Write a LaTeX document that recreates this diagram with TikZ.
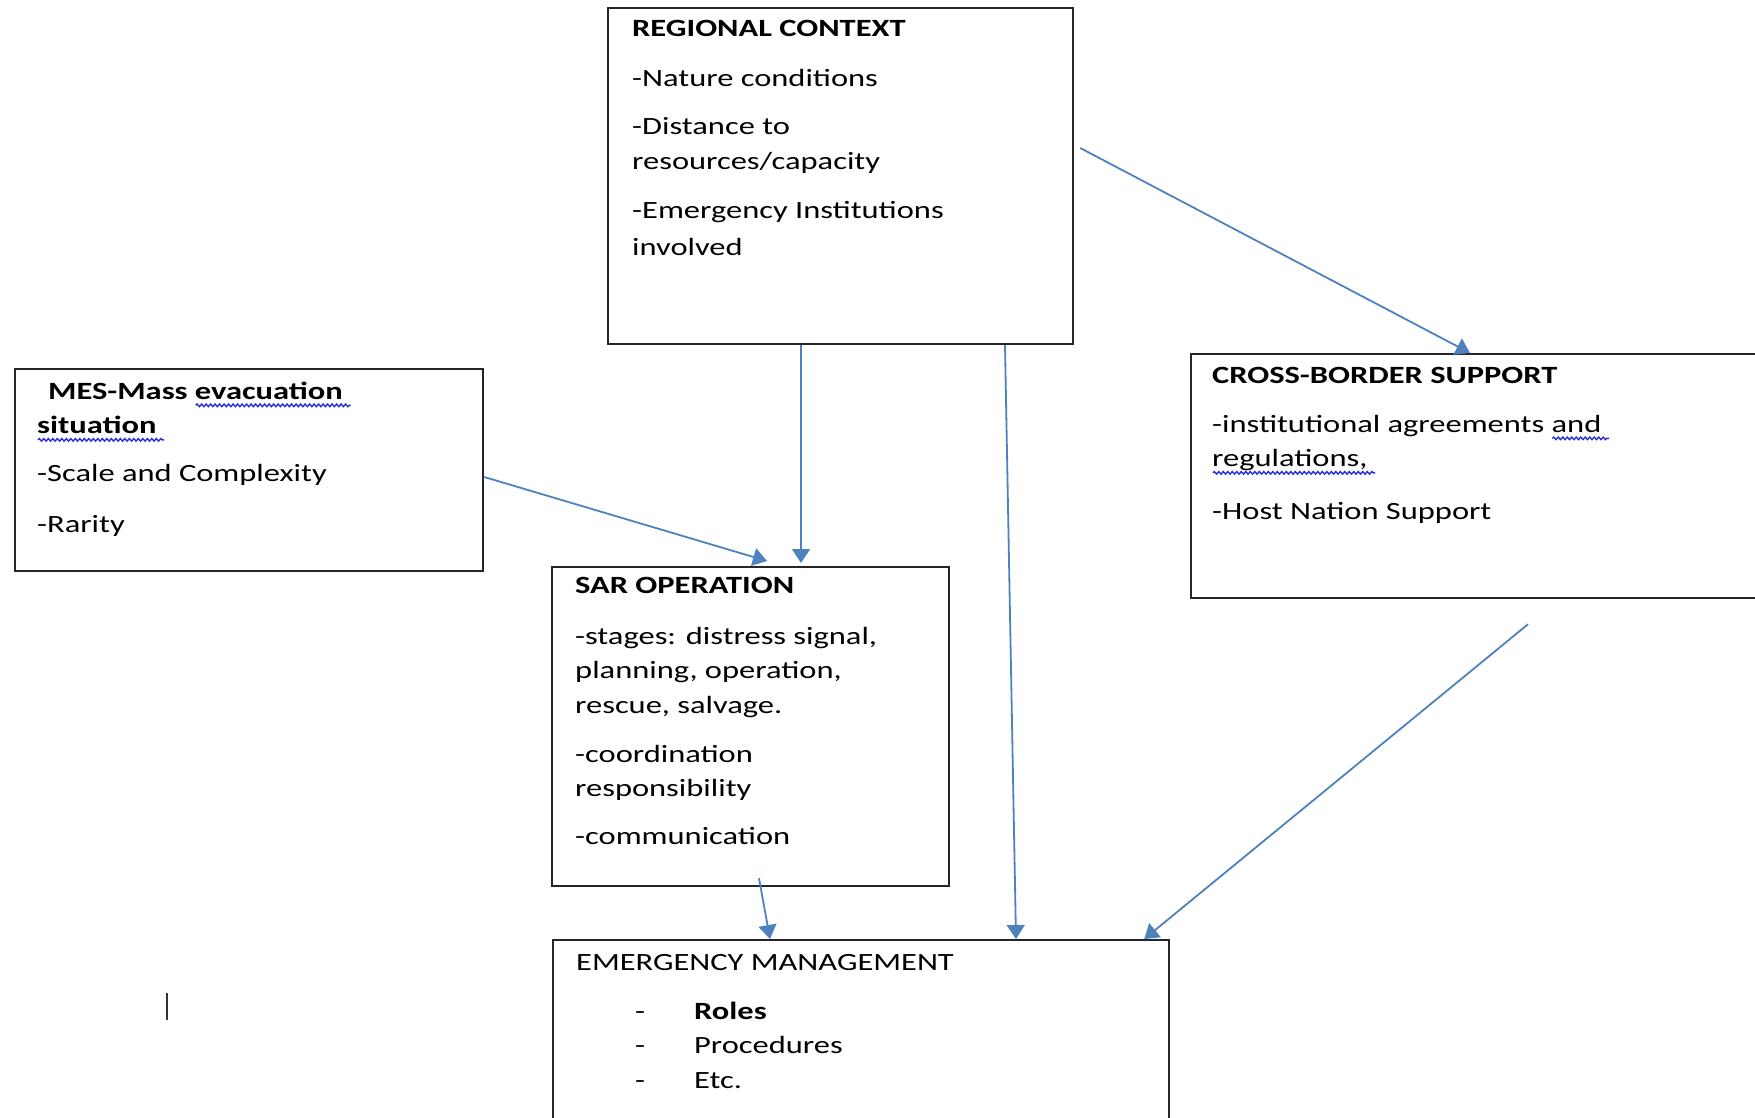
\documentclass[tikz,border=0pt]{standalone}
\usepackage{fontspec}
\setmainfont{Carlito}[FakeStretch=1.31]
\usetikzlibrary{arrows.meta,positioning,decorations.pathmorphing}

\definecolor{arrowblue}{RGB}{79,129,189}
\definecolor{wavyblue}{RGB}{40,50,215}
\newlength{\squiglen}
\newcommand{\squig}[1]{\settowidth{\squiglen}{#1}\rlap{\tikz[baseline=0pt]\draw[wavyblue, line width=1.4pt, decorate, decoration={snake, amplitude=1.3pt, segment length=4.5pt}] (0pt,-6pt) -- (\squiglen+7pt,-6pt);}#1}

\tikzset{
  box/.style={draw=black!85, line width=2.2pt, inner sep=0pt, anchor=north west},
  txt/.style={align=left, inner sep=0pt, font=\fontsize{24.8}{34.5}\selectfont},
}

\begin{document}
\begin{tikzpicture}[x=1pt,y=-1pt,>={Triangle[length=14pt,width=18pt]}]
  \useasboundingbox (0,0) rectangle (1755,1117);

  \node[box, minimum width=465pt, minimum height=336pt] (rc) at (607,7) {};
  \node[box, minimum width=468pt, minimum height=202pt] (mes) at (14,368) {};
  \node[box, minimum width=620pt, minimum height=244pt] (cb) at (1190,353) {};
  \node[box, minimum width=397pt, minimum height=319pt] (sar) at (551,566) {};
  \node[box, minimum width=616pt, minimum height=220pt] (em) at (552,939) {};

  \node[txt] (rctxt) [below right=5pt and 25pt of rc.north west]
    {\strut\textbf{REGIONAL CONTEXT}\\[16pt]
     -Nature conditions\\[13.5pt]
     -Distance to\\
     resources/capacity\\[15pt]
     -Emergency Institutions\\[2pt]
     involved};
  \node[txt] (mestxt) [below right=7pt and 23pt of mes.north west]
    {\strut\hspace*{11pt}\textbf{MES-Mass \squig{evacuation}}\\
     \textbf{\squig{situation}}\\[13.5pt]
     -Scale and Complexity\\[16.5pt]
     -Rarity};
  \node[txt] (cbtxt) [below right=6pt and 22pt of cb.north west]
    {\strut\textbf{CROSS-BORDER SUPPORT}\\[14.5pt]
     -institutional agreements \squig{and}\\
     \squig{regulations,}\\[18pt]
     -Host Nation Support};
  \node[txt] (sartxt) [below right=3pt and 24pt of sar.north west]
    {\strut\textbf{SAR OPERATION}\\[16.5pt]
     -stages: distress signal,\\
     planning, operation,\\
     rescue, salvage.\\[14.5pt]
     -coordination\\
     responsibility\\[13.5pt]
     -communication};
  \node[txt] (emtxt) [below right=7pt and 24pt of em.north west]
    {\strut EMERGENCY MANAGEMENT\\[14.5pt]
     \hspace*{59pt}\makebox[59pt][l]{-}\textbf{Roles}\\
     \hspace*{59pt}\makebox[59pt][l]{-}Procedures\\
     \hspace*{59pt}\makebox[59pt][l]{-}Etc.};

  % text cursor left in the page
  \draw[line width=2.5pt, black!80] (167,993) -- (167,1020);

  \path[->, color=arrowblue, line width=1.8pt]
    ([shift={(6,141)}]rc.north east) edge ([shift={(280,0)}]cb.north west)
    ([shift={(194,0)}]rc.south west) edge ([shift={(250,-3)}]sar.north west)
    ([shift={(398,0)}]rc.south west) edge ([shift={(464,0)}]em.north west)
    ([shift={(0,109)}]mes.north east) edge ([shift={(216,-5)}]sar.north west)
    ([shift={(208,-9)}]sar.south west) edge ([shift={(218,0)}]em.north west)
    ([shift={(338,25)}]cb.south west) edge ([shift={(-26,0)}]em.north east)
       ;
\end{tikzpicture}
\end{document}
